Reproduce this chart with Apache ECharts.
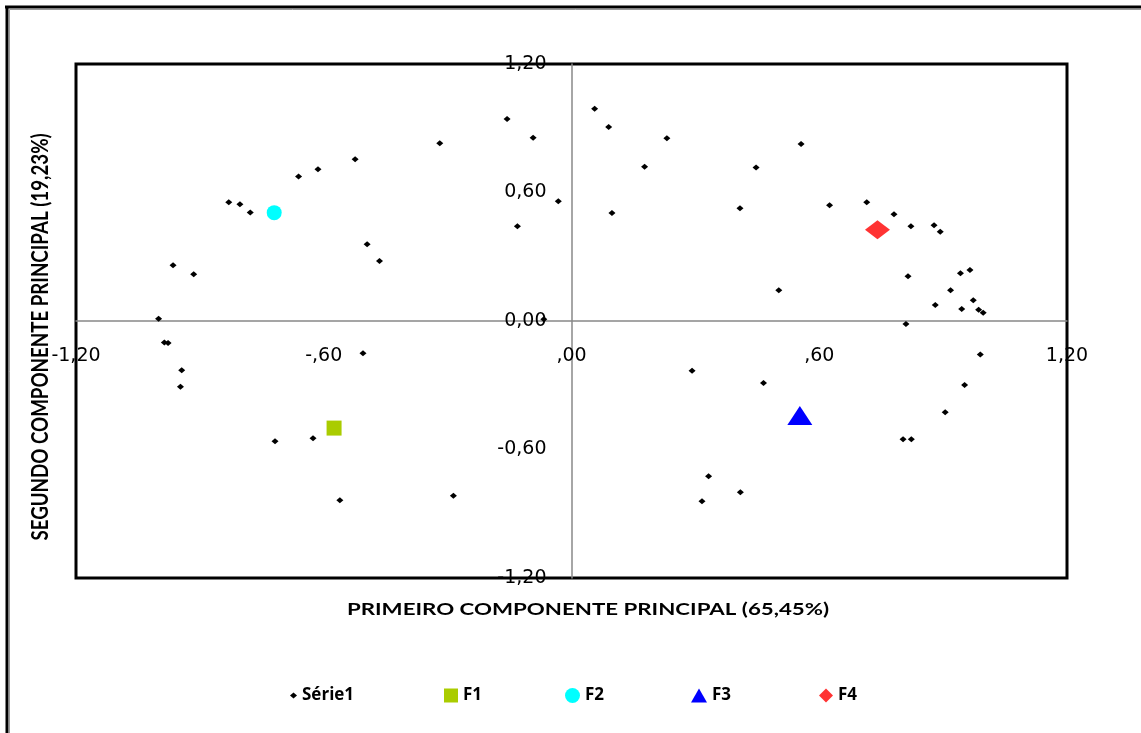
<!DOCTYPE html>
<html>
<head>
<meta charset="utf-8">
<script src="https://cdn.jsdelivr.net/npm/echarts@6/dist/echarts.min.js"></script>
<style>
  html, body { margin: 0; padding: 0; background: #fff; }
  #chart { width: 1141px; height: 733px; }
</style>
</head>
<body>
<div id="chart"></div>
<script>
// PCA scores: [first component, second component]
const serie1 = [
  [-1.00, 0.01], [-0.965, 0.26], [-0.915, 0.218], [-0.830, 0.554], [-0.803, 0.545],
  [-0.778, 0.507], [-0.661, 0.675], [-0.614, 0.708], [-0.524, 0.755], [-0.495, 0.358],
  [-0.465, 0.280], [-0.319, 0.830], [-0.156, 0.943], [-0.093, 0.856], [-0.032, 0.559],
  [-0.131, 0.442], [-0.067, 0.008],
  [0.056, 0.991], [0.090, 0.906], [0.231, 0.853], [0.177, 0.720], [0.556, 0.826],
  [0.447, 0.717], [0.098, 0.504], [0.408, 0.526], [0.625, 0.540], [0.715, 0.554],
  [0.781, 0.498], [0.822, 0.442], [0.878, 0.447], [0.893, 0.417], [0.815, 0.209],
  [0.942, 0.223], [0.965, 0.238], [0.918, 0.143], [0.973, 0.097], [0.881, 0.075],
  [0.945, 0.056], [0.986, 0.053], [0.997, 0.039], [0.502, 0.143], [0.810, -0.014],
  [-0.986, -0.100], [-0.977, -0.103], [-0.944, -0.230], [-0.947, -0.307], [-0.505, -0.151],
  [-0.718, -0.562], [-0.626, -0.548], [-0.561, -0.837], [-0.286, -0.816],
  [0.292, -0.232], [0.465, -0.290], [0.332, -0.725], [0.316, -0.842], [0.409, -0.800],
  [0.803, -0.552], [0.823, -0.552], [0.905, -0.426], [0.952, -0.299], [0.990, -0.156]
];
const f1 = [[-0.575, -0.500]];
const f2 = [[-0.720, 0.506]];
const f3 = [[0.553, -0.441]];
const f4 = [[0.741, 0.426]];

const xTickLabels = ['-1,20', '-,60', ',00', ',60', '1,20'];
const yTickLabels = ['-1,20', '-0,60', '0,00', '0,60', '1,20'];

const xTitle = 'PRIMEIRO COMPONENTE PRINCIPAL (65,45%)';
const yTitle = 'SEGUNDO COMPONENTE PRINCIPAL (19,23%)';

const seriesNames = ['Série1', 'F1', 'F2', 'F3', 'F4'];
const seriesColors = ['#000000', '#AACC00', '#00FFFF', '#0000FF', '#FF3333'];

const titleFont = 'Lato, "Open Sans", sans-serif';
const legendFont = '"Open Sans", Lato, sans-serif';
const tickFont = '"DejaVu Sans", sans-serif';

// plot box
const G = { left: 76, top: 64, right: 74, bottom: 155 };
const plotW = 1141 - G.left - G.right;
const plotH = 733 - G.top - G.bottom;

const chart = echarts.init(document.getElementById('chart'));

function legendItem(i, left, icon, w, h) {
  return {
    left: left, top: 682, orient: 'horizontal',
    itemWidth: w, itemHeight: h, itemGap: 6,
    selectedMode: false,
    data: [{ name: seriesNames[i], icon: icon }],
    textStyle: { fontFamily: legendFont, fontSize: 17, fontWeight: 'bold', color: '#000' }
  };
}

chart.setOption({
  animation: false,
  backgroundColor: '#fff',
  grid: {
    left: G.left, top: G.top, right: G.right, bottom: G.bottom,
    show: true, borderColor: '#000', borderWidth: 3, backgroundColor: 'transparent'
  },
  graphic: [
    { type: 'line', shape: { x1: 5, y1: 7, x2: 1141, y2: 7 }, style: { stroke: '#000', lineWidth: 3 } },
    { type: 'line', shape: { x1: 7, y1: 6, x2: 7, y2: 733 }, style: { stroke: '#000', lineWidth: 3 } },
    { type: 'line', shape: { x1: 9.5, y1: 9.5, x2: 1141, y2: 9.5 }, style: { stroke: '#999', lineWidth: 1 } },
    { type: 'line', shape: { x1: 9.5, y1: 9.5, x2: 9.5, y2: 733 }, style: { stroke: '#999', lineWidth: 1 } },
    {
      type: 'text', x: 588, y: 610, scaleX: 1.31,
      style: { text: xTitle, font: 'bold 17px ' + titleFont, fill: '#000', align: 'center', verticalAlign: 'middle' }
    },
    {
      type: 'text', x: 41, y: 337, rotation: Math.PI / 2, scaleX: 1.04, scaleY: 1.25,
      style: { text: yTitle, font: 'bold 18px ' + titleFont, fill: '#000', align: 'center', verticalAlign: 'middle' }
    }
  ],
  legend: [
    legendItem(0, 285, 'diamond', 7, 6),
    legendItem(1, 439, 'rect', 14, 14),
    legendItem(2, 560, 'circle', 15, 15),
    legendItem(3, 686, 'triangle', 16, 14),
    legendItem(4, 814, 'diamond', 14, 14)
  ],
  xAxis: {
    type: 'value', min: -1.2, max: 1.2, interval: 0.6,
    position: 'bottom', offset: -plotH / 2,
    axisLine: { show: true, onZero: false, lineStyle: { color: '#888', width: 1.5 } },
    axisTick: { show: false },
    splitLine: { show: false },
    axisLabel: {
      margin: 26, color: '#000', fontFamily: tickFont, fontSize: 19,
      formatter: (v, i) => xTickLabels[i]
    }
  },
  yAxis: {
    type: 'value', min: -1.2, max: 1.2, interval: 0.6,
    position: 'left', offset: -plotW / 2,
    axisLine: { show: true, onZero: false, lineStyle: { color: '#888', width: 1.5 } },
    axisTick: { show: false },
    splitLine: { show: false },
    axisLabel: {
      margin: 25, color: '#000', fontFamily: tickFont, fontSize: 19,
      formatter: (v, i) => yTickLabels[i]
    }
  },
  series: [
    { name: seriesNames[0], type: 'scatter', data: serie1, symbol: 'diamond', symbolSize: [7, 6],
      itemStyle: { color: seriesColors[0], opacity: 1 } },
    { name: seriesNames[1], type: 'scatter', data: f1, symbol: 'rect', symbolSize: 15,
      itemStyle: { color: seriesColors[1], opacity: 1 } },
    { name: seriesNames[2], type: 'scatter', data: f2, symbol: 'circle', symbolSize: 15,
      itemStyle: { color: seriesColors[2], opacity: 1 } },
    { name: seriesNames[3], type: 'scatter', data: f3, symbol: 'triangle', symbolSize: [25, 19],
      itemStyle: { color: seriesColors[3], opacity: 1 } },
    { name: seriesNames[4], type: 'scatter', data: f4, symbol: 'diamond', symbolSize: [25, 19],
      itemStyle: { color: seriesColors[4], opacity: 1 } }
  ]
});
</script>
</body>
</html>
